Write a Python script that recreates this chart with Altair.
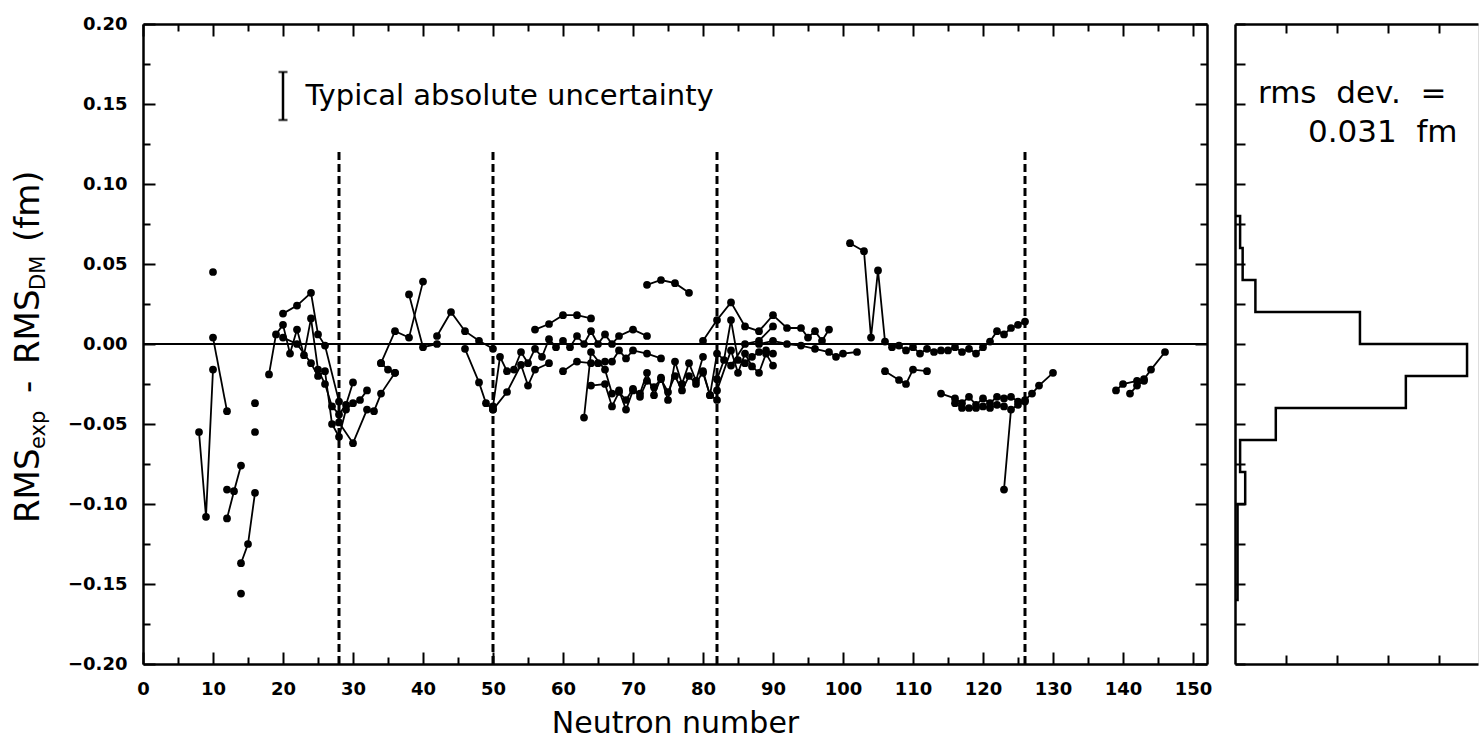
import altair as alt
import pandas as pd

FONT = "DejaVu Sans"
NB = "\u00a0"

# ---------------- data: isotope chains (neutron number N, RMS_exp - RMS_DM in fm)
n_01 = [8, 9, 10];                  d_01 = [-0.055, -0.108, -0.016]
n_02 = [10, 12];                    d_02 = [0.004, -0.042]
n_03 = [12, 13, 14];                d_03 = [-0.109, -0.092, -0.076]
n_04 = [14, 15, 16];                d_04 = [-0.137, -0.125, -0.093]
n_05 = [18, 19, 20, 21, 22, 23, 24, 25, 26, 27, 28, 29, 30]
d_05 = [-0.019, 0.006, 0.012, -0.006, 0.009, -0.007, 0.016, -0.016, -0.025, -0.039, -0.044, -0.038, -0.024]
n_06 = [20, 22, 24, 25, 26, 28];    d_06 = [0.019, 0.024, 0.032, 0.006, -0.001, -0.036]
n_07 = [20, 22, 24, 25, 26, 27, 28, 29, 30, 31, 32]
d_07 = [0.004, 0.000, -0.012, -0.020, -0.017, -0.050, -0.058, -0.041, -0.037, -0.035, -0.029]
n_08 = [28, 30, 32, 33, 34, 36];    d_08 = [-0.049, -0.062, -0.041, -0.042, -0.031, -0.018]
n_09 = [34, 36, 38, 40];            d_09 = [-0.012, 0.008, 0.004, 0.039]
n_10 = [34, 35, 36];                d_10 = [-0.012, -0.016, -0.018]
n_11 = [38, 40, 42];                d_11 = [0.031, -0.002, 0.000]
n_12 = [42, 44, 46, 48, 50];        d_12 = [0.005, 0.020, 0.008, 0.002, -0.003]
n_13 = [46, 48, 49, 50];            d_13 = [-0.003, -0.024, -0.037, -0.041]
n_14 = [50, 51, 52, 53, 54, 55, 56, 57, 58, 59, 60, 61, 62, 63, 64, 65, 66, 67, 68, 70, 72]
d_14 = [-0.039, -0.008, -0.017, -0.016, -0.005, -0.012, -0.003, -0.008, 0.003, -0.002, 0.002,
        -0.002, 0.005, 0.000, 0.008, 0.000, 0.006, 0.000, 0.005, 0.009, 0.005]
n_15 = [50, 52, 54, 55, 56, 58];    d_15 = [-0.041, -0.030, -0.013, -0.026, -0.016, -0.012]
n_16 = [56, 58, 60, 62, 64];        d_16 = [0.009, 0.0125, 0.018, 0.018, 0.016]
n_17 = [60, 62, 64, 65, 66, 67, 68, 69, 70, 72, 74]
d_17 = [-0.017, -0.011, -0.012, -0.012, -0.011, -0.011, -0.004, -0.009, -0.004, -0.006, -0.009]
n_18 = [63, 64, 66, 67, 68, 69, 70, 71, 72, 73, 74, 75, 76, 77, 78, 79, 80]
d_18 = [-0.046, -0.005, -0.016, -0.031, -0.029, -0.041, -0.029, -0.031, -0.018, -0.032, -0.021,
        -0.035, -0.011, -0.025, -0.012, -0.023, -0.008]
n_19 = [64, 66, 67, 68, 69, 70, 71, 72, 73, 74, 75, 76, 77, 78, 79, 80, 81, 82]
d_19 = [-0.026, -0.025, -0.039, -0.030, -0.035, -0.028, -0.033, -0.023, -0.027, -0.022, -0.030,
        -0.020, -0.029, -0.020, -0.025, -0.017, -0.032, -0.035]
n_20 = [72, 74, 76, 78];            d_20 = [0.037, 0.040, 0.038, 0.032]
n_21 = [80, 82, 84, 86, 88, 90, 92, 94, 95, 96, 97, 98]
d_21 = [0.002, 0.015, 0.026, 0.011, 0.008, 0.018, 0.010, 0.010, 0.004, 0.008, 0.002, 0.009]
n_22 = [88, 90, 92, 94, 96, 98, 99, 100, 102]
d_22 = [0.000, 0.002, 0.000, -0.001, -0.003, -0.005, -0.008, -0.006, -0.005]
n_23 = [82, 84, 85, 86, 87, 88, 89, 90]
d_23 = [-0.029, -0.004, -0.018, -0.006, -0.014, -0.018, -0.006, -0.0135]
n_24 = [82, 83, 84, 85, 86, 87, 88, 89, 90]
d_24 = [-0.022, -0.010, 0.015, -0.010, -0.012, -0.008, -0.005, -0.004, -0.006]
n_25 = [80, 81, 82, 84, 86, 88, 90]; d_25 = [-0.018, -0.032, -0.006, -0.0135, 0.000, 0.002, 0.011]
n_26 = [101, 103, 104, 105, 106, 107, 108, 109, 110, 111, 112, 113, 114, 115, 116, 117, 118,
        119, 120, 121, 122, 123, 124, 125, 126]
d_26 = [0.063, 0.058, 0.004, 0.046, 0.0015, -0.002, -0.001, -0.004, -0.002, -0.006, -0.003,
        -0.005, -0.004, -0.004, -0.002, -0.005, -0.003, -0.006, -0.002, 0.0015, 0.008, 0.006,
        0.010, 0.012, 0.014]
n_27 = [106, 108, 109, 110, 112];   d_27 = [-0.017, -0.0225, -0.025, -0.016, -0.017]
n_28 = [114, 116, 117, 118, 119, 120, 121, 122, 123, 124, 125, 126, 127, 128, 130]
d_28 = [-0.031, -0.034, -0.037, -0.033, -0.038, -0.034, -0.037, -0.033, -0.034, -0.033, -0.036,
        -0.035, -0.031, -0.026, -0.018]
n_29 = [116, 117, 118, 119, 120, 121, 122, 123]
d_29 = [-0.037, -0.040, -0.040, -0.040, -0.039, -0.040, -0.038, -0.039]
n_30 = [123, 124, 125, 126];        d_30 = [-0.091, -0.041, -0.038, -0.036]
n_31 = [139, 140, 142, 143, 144, 146]; d_31 = [-0.029, -0.025, -0.023, -0.022, -0.016, -0.005]
n_32 = [141, 142, 143];             d_32 = [-0.031, -0.026, -0.023]

single_n = [10, 12, 14, 16, 16]
single_d = [0.045, -0.091, -0.156, -0.055, -0.037]

magic_n = [28, 50, 82, 126]

# typical absolute uncertainty bar
unc_n = [20]
unc_center = [0.155]
unc_half = [0.015]

# histogram of deviations (bins of 0.02 fm, counts)
hist_top = [0.08, 0.06, 0.04, 0.02, 0.00, -0.02, -0.04, -0.06, -0.08, -0.10, -0.12, -0.14]
hist_count = [2, 3, 8, 49, 91, 67, 16, 2, 4, 1, 1, 1]
BIN = 0.02
rms_dev = 0.031

# ---------------- tables built from the arrays
chains = [(n_01, d_01), (n_02, d_02), (n_03, d_03), (n_04, d_04), (n_05, d_05), (n_06, d_06),
          (n_07, d_07), (n_08, d_08), (n_09, d_09), (n_10, d_10), (n_11, d_11), (n_12, d_12),
          (n_13, d_13), (n_14, d_14), (n_15, d_15), (n_16, d_16), (n_17, d_17), (n_18, d_18),
          (n_19, d_19), (n_20, d_20), (n_21, d_21), (n_22, d_22), (n_23, d_23), (n_24, d_24),
          (n_25, d_25), (n_26, d_26), (n_27, d_27), (n_28, d_28), (n_29, d_29), (n_30, d_30),
          (n_31, d_31), (n_32, d_32)]
rows = []
for i, (ns, ds) in enumerate(chains):
    for a, b in zip(ns, ds):
        rows.append({"chain": i, "N": a, "d": b})
lines_df = pd.DataFrame(rows)
pts_df = pd.concat([lines_df, pd.DataFrame({"chain": -1, "N": single_n, "d": single_d})],
                   ignore_index=True)
magic_df = pd.DataFrame({"N": magic_n, "top": 0.12, "bot": -0.2})
unc_df = pd.DataFrame({"N": unc_n,
                       "lo": [c - h for c, h in zip(unc_center, unc_half)],
                       "hi": [c + h for c, h in zip(unc_center, unc_half)]})

outline = [{"o": 0, "c": 0, "v": hist_top[0]}]
k = 1
for t, c in zip(hist_top, hist_count):
    outline.append({"o": k, "c": c, "v": t}); k += 1
    outline.append({"o": k, "c": c, "v": t - BIN}); k += 1
outline.append({"o": k, "c": 0, "v": hist_top[-1] - BIN})
hist_df = pd.DataFrame(outline)

# ---------------- helpers
W, H = 1064, 640
HW = 243
xs = alt.Scale(domain=[0, 152], nice=False, zero=False)
ys = alt.Scale(domain=[-0.2, 0.2], nice=False, zero=False)
hxs = alt.Scale(domain=[0, HW / 2.55], nice=False, zero=False)


def tick_axis(orient, values, size, labels=False, **kw):
    p = dict(orient=orient, values=values, tickSize=size, offset=-size, domain=False,
             grid=False, labels=labels, ticks=True, tickColor="black", tickWidth=2,
             minExtent=0, labelColor="black", titleColor="black", labelFlush=False,
             labelOverlap=False)
    if "title" not in kw:
        p["title"] = None
    p.update(kw)
    return alt.Axis(**p)


def border_axis(orient):
    return alt.Axis(orient=orient, domain=True, domainColor="black", domainWidth=2.5,
                    ticks=False, labels=False, grid=False, minExtent=0, offset=0, title=None)


def carrier(df, xf, yf, xscale, yscale, xaxis, yaxis):
    return alt.Chart(df).mark_point(opacity=0).encode(
        x=alt.X(xf, scale=xscale, axis=xaxis),
        y=alt.Y(yf, scale=yscale, axis=yaxis))


xmaj = list(range(0, 151, 10))
xmin = list(range(5, 151, 10))
ymaj = [round(-0.2 + 0.05 * i, 3) for i in range(9)]
ymin = [round(-0.175 + 0.05 * i, 3) for i in range(8)]
lab = dict(labelFont=FONT, labelFontSize=18, labelFontWeight="bold")

main_axes = [
    carrier(pts_df, "N:Q", "d:Q", xs, ys,
            tick_axis("bottom", xmaj, 12, labels=True, labelPadding=16,
                      title="Neutron number", titleFont=FONT, titleFontSize=30,
                      titleFontWeight="normal", titlePadding=10, **lab),
            tick_axis("left", ymaj, 12, labels=True, labelPadding=16, format=".2f", **lab)),
    carrier(pts_df, "N:Q", "d:Q", xs, ys, tick_axis("bottom", xmin, 7), tick_axis("left", ymin, 7)),
    carrier(pts_df, "N:Q", "d:Q", xs, ys, tick_axis("top", xmaj, 12), tick_axis("right", ymaj, 12)),
    carrier(pts_df, "N:Q", "d:Q", xs, ys, tick_axis("top", xmin, 7), tick_axis("right", ymin, 7)),
    carrier(pts_df, "N:Q", "d:Q", xs, ys, border_axis("bottom"), border_axis("left")),
    carrier(pts_df, "N:Q", "d:Q", xs, ys, border_axis("top"), border_axis("right")),
]

X = alt.X("N:Q", scale=xs, axis=None)
Y = alt.Y("d:Q", scale=ys, axis=None)

zero = alt.Chart(pts_df).mark_rule(color="black", strokeWidth=1.8).encode(
    y=alt.Y(datum=0, scale=ys, axis=None))
magic = alt.Chart(magic_df).mark_rule(color="black", strokeWidth=3, strokeDash=[8, 4]).encode(
    x=X, y=alt.Y("top:Q", scale=ys, axis=None), y2="bot:Q")
lines = alt.Chart(lines_df).mark_line(color="black", strokeWidth=1.8).encode(
    x=X, y=Y, detail="chain:N", order="N:Q")
points = alt.Chart(pts_df).mark_circle(color="black", opacity=1, size=60).encode(x=X, y=Y)
unc_rule = alt.Chart(unc_df).mark_rule(color="black", strokeWidth=2.5).encode(
    x=X, y=alt.Y("lo:Q", scale=ys, axis=None), y2="hi:Q")
unc_lo = alt.Chart(unc_df).mark_tick(orient="horizontal", color="black", size=9, thickness=2.5).encode(
    x=X, y=alt.Y("lo:Q", scale=ys, axis=None))
unc_hi = alt.Chart(unc_df).mark_tick(orient="horizontal", color="black", size=9, thickness=2.5).encode(
    x=X, y=alt.Y("hi:Q", scale=ys, axis=None))
unc_text = alt.Chart(pd.DataFrame({"t": ["Typical absolute uncertainty"], "N": [23.2], "d": [0.155]})
                     ).mark_text(align="left", baseline="middle", fontSize=29, font=FONT,
                                 color="black").encode(x=X, y=Y, text="t:N")


def ytitle(txt, xpix, ypix, size):
    return alt.Chart(pd.DataFrame({"t": [txt]})).mark_text(
        angle=270, align="left", baseline="middle", fontSize=size, font=FONT, color="black"
    ).encode(text="t:N", x=alt.value(xpix), y=alt.value(ypix))


yt = [
    ytitle("RMS", -114, 499, 34),
    ytitle("exp", -104, 425, 21),
    ytitle("-", -114, 369, 34),
    ytitle("RMS", -114, 340, 34),
    ytitle("DM", -104, 266, 21),
    ytitle("(fm)", -114, 218, 34),
]

main = alt.layer(*main_axes, zero, magic, lines, points, unc_rule, unc_lo, unc_hi, unc_text, *yt
                 ).properties(width=W, height=H).resolve_axis(x="independent", y="independent")

# ---------------- histogram panel
hyt = [round(-0.2 + 0.025 * i, 3) for i in range(17)]
hx = [20, 40, 60, 80]
hist_axes = [
    carrier(hist_df, "c:Q", "v:Q", hxs, ys, tick_axis("bottom", hx, 9), tick_axis("left", hyt, 10)),
    carrier(hist_df, "c:Q", "v:Q", hxs, ys, tick_axis("top", hx, 9), border_axis("left")),
    carrier(hist_df, "c:Q", "v:Q", hxs, ys, border_axis("bottom"), None),
    carrier(hist_df, "c:Q", "v:Q", hxs, ys, border_axis("top"), None),
]
step = alt.Chart(hist_df).mark_line(color="black", strokeWidth=2.5, strokeJoin="miter").encode(
    x=alt.X("c:Q", scale=hxs, axis=None), y=alt.Y("v:Q", scale=ys, axis=None), order="o:Q")
rms_df = pd.DataFrame({"t": [f"rms{NB}{NB}dev.{NB}{NB}=", f"{rms_dev:.3f}{NB}{NB}fm"],
                       "c": [9, 28.6], "v": [0.156, 0.132]})
rms_text = alt.Chart(rms_df).mark_text(align="left", baseline="middle", fontSize=31, font=FONT,
                                       color="black").encode(
    x=alt.X("c:Q", scale=hxs, axis=None), y=alt.Y("v:Q", scale=ys, axis=None), text="t:N")
hist = alt.layer(*hist_axes, step, rms_text).properties(width=HW, height=H).resolve_axis(
    x="independent", y="independent")

chart = alt.hconcat(main, hist, spacing=16).properties(
    padding={"left": 11, "top": 14, "right": 0, "bottom": 0}
).configure_view(stroke="transparent", strokeWidth=0).configure(font=FONT)

chart.save("out.html", embed_options={"renderer": "svg", "actions": False})
